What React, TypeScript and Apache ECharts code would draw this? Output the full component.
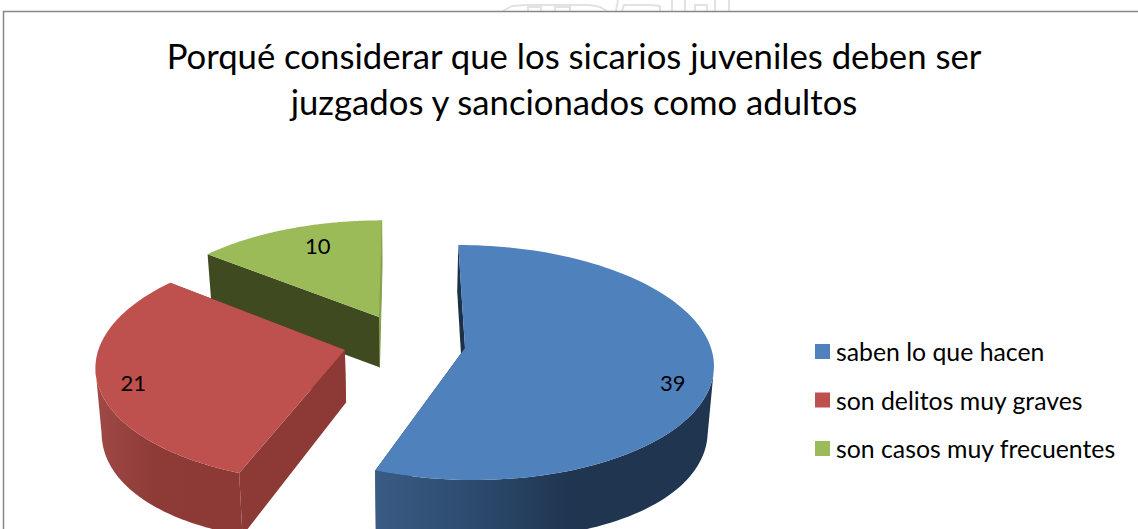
import React, { useEffect, useRef } from "react";
import * as echarts from "echarts";

const categories = ["saben lo que hacen", "son delitos muy graves", "son casos muy frecuentes"];
const values = [39, 21, 10];
const topColors = ["#4F81BD", "#BE504D", "#9BBB59"];
const titleLines = "Porqué considerar que los sicarios juveniles deben ser\njuzgados y sancionados como adultos";

// Perspective of the tilted pie
const X0 = 404, Y0 = 348, RX = 246, RY = 115.7, K = 0.1234, H = 52, C = 0.14, SHRINK = 0.02;
// Exploded apex of each slice in world units (px in x, radius fractions in z)
const apexX = [61, -59, -25.9];
const apexZ = [0, 0.017, -0.277];
const labelFrac = [0.85, 0.85, 0.85];
const labelShift = [[-3, 17], [-2, 5], [17, 4]];
const sideStops: [number, string][][] = [
  [[0, "#3A5B84"], [0.3, "#2C4A6D"], [0.58, "#1F3550"], [1, "#1F3550"]],
  [[0, "#9F4A47"], [0.4, "#8E3A37"], [1, "#8D3936"]],
  [[0, "#3F4A20"], [1, "#3F4A20"]],
];
const startCutColors = ["#1C3048", "#8D3936", "#3F4A20"];
const endCutColors = ["#1C3048", "#8D3936", "#84A04C"];
const watermark = [
  [[503, 11], [512, 6], [525, 5], [590, 5], [600, 7], [607, 11]],
  [[528, 11], [528, 7], [541, 7], [541, 11]],
  [[555, 11], [555, 7], [570, 7], [570, 11]],
  [[616, 11], [618, 0]],
  [[622, 11], [624, 5], [650, 5], [660, 6], [660, 11]],
  [[672, 0], [672, 11]],
  [[685, 0], [685, 11]],
  [[695, 11], [695, 5], [707, 5], [707, 11]],
  [[715, 0], [715, 11]],
  [[729, 0], [729, 11]],
];

const total = values.reduce((a, b) => a + b, 0);
const startAngle = (i: number) => (values.slice(0, i).reduce((a, b) => a + b, 0) / total) * Math.PI * 2;

function top(i: number, r: number, a: number) {
  const wx = apexX[i] + RX * r * Math.sin(a);
  const wz = apexZ[i] - r * Math.cos(a);
  const s = 1 / (1 - K * wz);
  return [X0 + wx * s, Y0 + RY * wz * s, s];
}
function bottom(i: number, r: number, a: number) {
  const [x, y, s] = top(i, r, a);
  const d = (x - X0) / RX;
  return [X0 + (x - X0) * (1 - SHRINK), y + H * s * (1 + C * d * d)];
}
function xy(p: number[]) {
  return [p[0], p[1]];
}

// Angles of the rightmost and leftmost points of the projected disc of a slice
function extremes(i: number) {
  let aR = 0, aL = 0, maxX = -Infinity, minX = Infinity;
  for (let k = 0; k < 720; k++) {
    const a = (k / 720) * Math.PI * 2;
    const x = top(i, 1, a)[0];
    if (x > maxX) { maxX = x; aR = a; }
    if (x < minX) { minX = x; aL = a; }
  }
  return [aR, aL];
}

function sliceElements(i: number) {
  const a0 = startAngle(i);
  const a1 = startAngle(i + 1);
  const n = 120;
  const arc: number[][] = [];
  const arcBottom: number[][] = [];
  for (let k = 0; k <= n; k++) {
    const a = a0 + ((a1 - a0) * k) / n;
    arc.push(xy(top(i, 1, a)));
    arcBottom.push(bottom(i, 1, a));
  }
  const apex = xy(top(i, 0, 0));
  const apexB = bottom(i, 0, 0);
  const children: any[] = [];
  children.push({
    type: "polygon",
    shape: { points: [arc[n], apex, apexB, arcBottom[n]] },
    style: { fill: endCutColors[i], stroke: endCutColors[i], lineWidth: i === 2 ? 1 : 0 },
  });
  children.push({
    type: "polygon",
    shape: { points: [arc[0], apex, apexB, arcBottom[0]] },
    style: { fill: startCutColors[i] },
  });
  // Outer wall, only the part that faces the viewer
  const [aR, aL] = extremes(i);
  const wallTop: number[][] = [];
  const wallBottom: number[][] = [];
  for (let k = 0; k <= n; k++) {
    const a = a0 + ((a1 - a0) * k) / n;
    if (a >= aR && a <= aL) {
      wallTop.push(arc[k]);
      wallBottom.push(arcBottom[k]);
    }
  }
  if (wallTop.length > 1) {
    children.push({
      type: "polygon",
      shape: { points: wallTop.concat(wallBottom.slice().reverse()) },
      style: {
        fill: new echarts.graphic.LinearGradient(
          0,
          0,
          1,
          0,
          sideStops[i].map(([offset, color]) => ({ offset, color })),
        ),
      },
    });
  }
  // Top face
  children.push({
    type: "polygon",
    shape: { points: [apex, ...arc] },
    style: { fill: topColors[i] },
  });
  // Value label
  const mid = (a0 + a1) / 2;
  const lp = top(i, labelFrac[i], mid);
  children.push({
    type: "text",
    x: lp[0] + labelShift[i][0],
    y: lp[1] + labelShift[i][1],
    style: {
      text: String(values[i]),
      fill: "#000",
      font: '22px Lato, "Noto Sans", sans-serif',
      align: "center",
      verticalAlign: "middle",
    },
  });
  return { type: "group", children };
}

// Drawing order: far slices first
const order = [2, 0, 1];

export default function App() {
  const ref = useRef<HTMLDivElement>(null);
  useEffect(() => {
    const chart = echarts.init(ref.current!, undefined, { renderer: "svg" });
    chart.setOption({
      animation: false,
      backgroundColor: "#fff",
      title: {
        text: titleLines,
        left: 569,
        top: 28,
        textAlign: "center",
        textStyle: {
          fontFamily: "Lato",
          fontSize: 34.7,
          fontWeight: "normal",
          color: "#000",
          lineHeight: 45.5,
        },
      },
      legend: {
        orient: "vertical",
        left: 815,
        top: 339,
        padding: 0,
        icon: "rect",
        itemWidth: 15,
        itemHeight: 15,
        itemGap: 23.5,
        data: categories,
        selectedMode: false,
        textStyle: { fontFamily: "Lato", fontSize: 24.8, lineHeight: 25, color: "#000", padding: [0, 0, 0, 1] },
      },
      graphic: [
        ...watermark.map((points) => ({
          type: "polyline",
          shape: { points },
          style: { fill: "none", stroke: "#E2E2E2", lineWidth: 2 },
          silent: true,
          z: -2,
        })),
        {
          type: "rect",
          shape: { x: 3.5, y: 11.5, width: 1200, height: 600 },
          style: { fill: "none", stroke: "#868686", lineWidth: 1.5 },
          silent: true,
          z: -1,
        },
      ],
      series: order.map((i) => ({
        type: "custom",
        name: categories[i],
        coordinateSystem: "none",
        itemStyle: { color: topColors[i] },
        data: [[values[i]]],
        renderItem: () => sliceElements(i),
        z: 2 + order.indexOf(i),
      })),
    });
    return () => chart.dispose();
  }, []);
  return <div ref={ref} style={{ position: "absolute", left: 0, top: 0, width: 1138, height: 529 }} />;
}
